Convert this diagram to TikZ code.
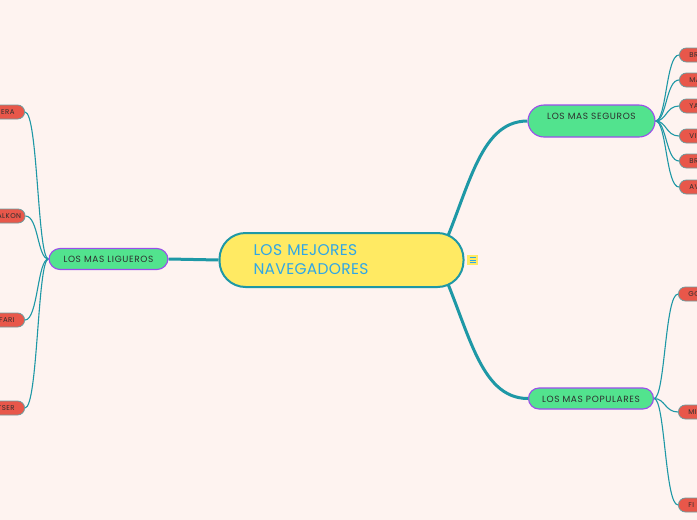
\documentclass[tikz,border=0pt]{standalone}
\usepackage{fontspec}
\setmainfont{Poppins}
\newfontfamily\topicfont[LetterSpace=7]{Poppins}
\newfontfamily\leaffont[LetterSpace=6]{Poppins}
\newfontfamily\rootfont[LetterSpace=2]{Poppins}
\usetikzlibrary{positioning}

\definecolor{bgpink}{HTML}{FEF3F0}
\definecolor{rootyellow}{HTML}{FFEA63}
\definecolor{rootblue}{HTML}{2FA6E6}
\definecolor{branchteal}{HTML}{1E98A6}
\definecolor{topicgreen}{HTML}{52E38E}
\definecolor{topicpurple}{HTML}{9A4EEA}
\definecolor{leafred}{HTML}{E8574A}
\definecolor{leafline}{HTML}{6E9C9E}
\definecolor{inkdark}{HTML}{2E2E2E}

\pgfdeclarelayer{paper}
\pgfdeclarelayer{links}
\pgfsetlayers{paper,links,main}

\tikzset{
  root/.style={draw=branchteal, line width=2pt, fill=rootyellow,
    rounded corners=26pt, minimum width=244pt, minimum height=54pt,
    inner xsep=34pt, text width=176pt, align=left,
    font=\rootfont\fontsize{15.5}{19}\selectfont, text=rootblue},
  topic/.style={draw=topicpurple, line width=1.1pt, fill=topicgreen,
    text=inkdark, font=\topicfont\fontsize{9}{10}\selectfont,
    text height=7pt, text depth=0pt, inner ysep=7pt},
  leaf/.style={draw=leafline, line width=0.8pt, fill=leafred,
    rounded corners=7pt, minimum height=14pt, text width=40pt,
    inner xsep=10pt, inner ysep=0pt, text height=5pt, text depth=0pt,
    font=\leaffont\fontsize{7}{8}\selectfont, text=inkdark},
  leafleft/.style={leaf, anchor=east, align=right},
  leafright/.style={leaf, anchor=west, align=left},
  branch/.style={draw=branchteal, line width=3pt},
  twig/.style={draw=branchteal, line width=1.1pt},
}

\begin{document}
\begin{tikzpicture}[x=1pt, y=-1pt]
\useasboundingbox (0,0) rectangle (697,520);
\begin{pgfonlayer}{paper}
\fill[bgpink] (0,0) rectangle (697,520);
\end{pgfonlayer}
\clip (0,0) rectangle (697,520);

% central idea
\node[root] (mejores) at (341.5,260) {LOS MEJORES\\NAVEGADORES};
\node[fill=rootyellow, minimum width=11pt, minimum height=10pt, inner sep=0pt] (menu) at (472.5,260) {};
\foreach \dy in {-2.5,0,2.5}
  \draw[rootblue, line width=0.8pt] ([xshift=-3pt, yshift=\dy pt]menu.center) -- ++(6,0);

% main topics
\node[topic, minimum width=119pt, rounded corners=11pt] (ligueros) at (108.5,259) {LOS MAS LIGUEROS};
\node[topic, minimum width=127pt, text depth=11pt, rounded corners=16pt] (seguros) at (591.5,121) {LOS MAS SEGUROS};
\node[topic, minimum width=125pt, rounded corners=10.5pt] (populares) at (591,398.5) {LOS MAS POPULARES};

% left leaves
\node[leafleft] (opera) at (25,112) {ERA};
\node[leafleft, inner xsep=4pt] (falkon) at (25.5,216) {ALKON};
\node[leafleft] (safari) at (25,320) {FARI};
\node[leafleft] (tser) at (25,408) {TSER};

% right leaves (upper)
\node[leafright] (brave) at (679,55) {BR};
\node[leafright] (maxthon) at (679,80) {MA};
\node[leafright] (yandex) at (679,106) {YA};
\node[leafright] (vivaldi) at (679,136) {VI};
\node[leafright] (browsec) at (679,161) {BR};
\node[leafright] (avast) at (679,187) {AV};

% right leaves (lower)
\node[leafright] (chrome) at (678,294) {GO};
\node[leafright] (edge) at (678,412) {MI};
\node[leafright] (firefox) at (678,505) {FI};

\begin{pgfonlayer}{links}
\draw[branch] (mejores.west) -- (ligueros.east);
\draw[branch] ([xshift=-27pt]mejores.east) .. controls +(31,-65) and +(-50,0) .. (seguros.west);
\draw[branch] ([xshift=-27pt]mejores.east) .. controls +(31,65) and +(-50,0) .. (populares.west);
\foreach \leaf in {brave,maxthon,yandex,vivaldi,browsec,avast}
  \draw[twig] (seguros.east) .. controls +(11,0) and +(-13,0) .. (\leaf.west);
\foreach \leaf in {chrome,edge,firefox}
  \draw[twig] (populares.east) .. controls +(11,0) and +(-13,0) .. (\leaf.west);
\foreach \leaf in {opera,falkon,safari,tser}
  \draw[twig] (ligueros.west) .. controls +(-11,0) and +(13,0) .. (\leaf.east);
\end{pgfonlayer}
\end{tikzpicture}
\end{document}
